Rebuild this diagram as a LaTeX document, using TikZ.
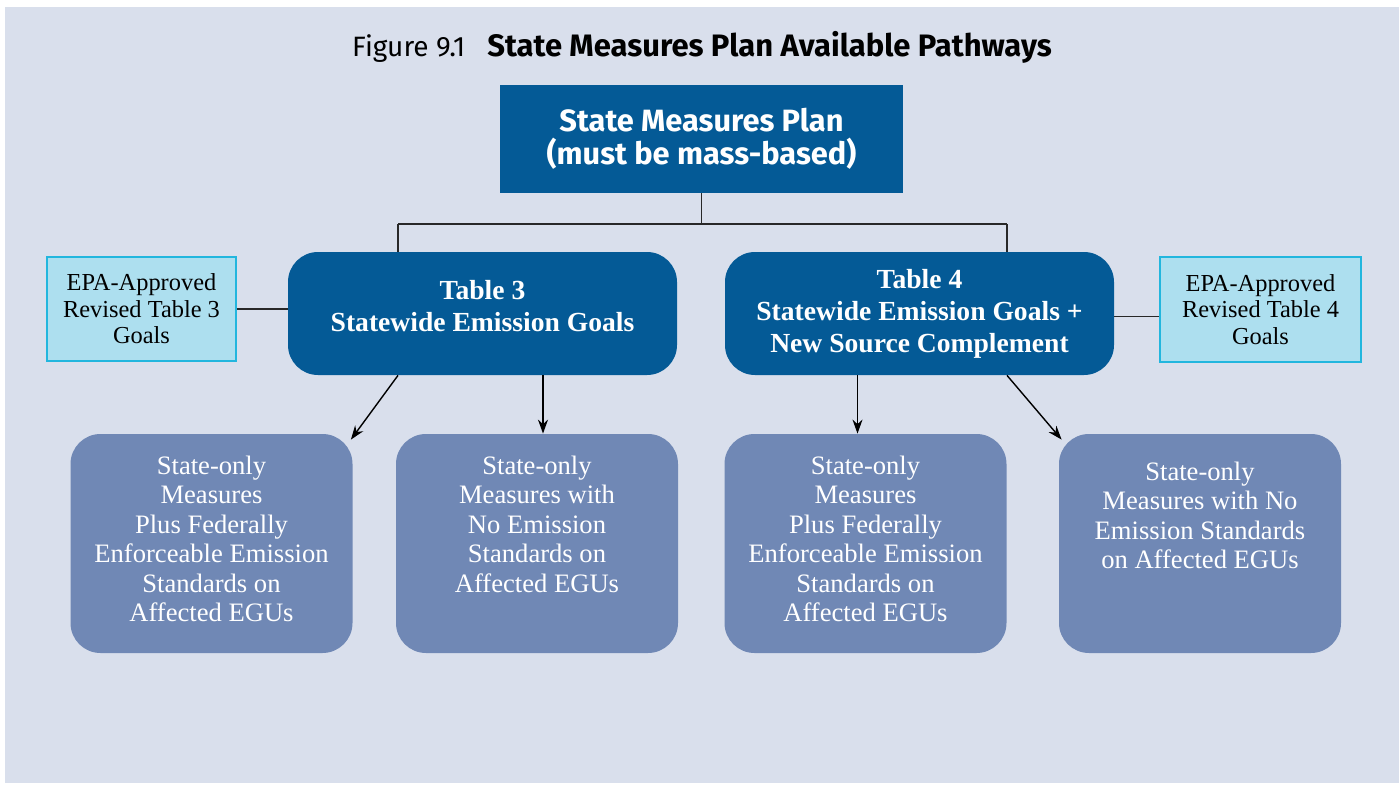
\documentclass[tikz,border=0pt]{standalone}
\usepackage{fontspec}
\setmainfont{Liberation Serif}
\setsansfont{Fira Sans}
\usepackage{xcolor}
\usepackage{tikz}
\usetikzlibrary{positioning,arrows.meta}
\definecolor{mybg}{RGB}{217,223,236}
\definecolor{myblue}{RGB}{4,90,150}
\definecolor{myslate}{RGB}{112,136,181}
\definecolor{mycyan}{RGB}{173,223,239}
\definecolor{myrim}{RGB}{34,182,222}
\definecolor{myline}{RGB}{40,40,40}

\begin{document}
\begin{tikzpicture}[x=0.5pt,y=-0.5pt,
    goalbox/.style={fill=myblue,rounded corners=15pt,minimum width=194.5pt,minimum height=61.5pt},
    pathbox/.style={fill=myslate,rounded corners=15pt,minimum width=141pt,minimum height=109.5pt},
    epabox/.style={fill=mycyan,draw=myrim,line width=0.8pt,align=center,font=\fontsize{12.2}{13.2}\selectfont},
    goaltext/.style={text=white,align=center,inner sep=0pt,font=\bfseries\fontsize{13.8}{16}\selectfont},
    pathtext/.style={text=white,align=center,inner sep=0pt,font=\fontsize{13.3}{14.7}\selectfont},
    link/.style={draw=myline,line width=0.7pt},
    arr/.style={draw=black,line width=0.7pt,-{Stealth[length=7pt,width=5pt]}}]
            \useasboundingbox (0,0) rectangle (1399,787);
            \fill[mybg] (5,7) rectangle (1399,783);

            \node[font=\sffamily\fontsize{14}{16}\selectfont] (title) at (702,47)
                {Figure 9.1\hspace{11pt}{\fontsize{15.5}{17}\selectfont\bfseries State Measures Plan Available Pathways}};

            \node[fill=myblue,minimum width=201.5pt,minimum height=54pt,text=white,align=center,
                font=\sffamily\bfseries\fontsize{15.4}{16.5}\selectfont] (plan) at (701.5,139)
                {State Measures Plan\\(must be mass-based)};

            \node[goalbox] (t3) at (482.5,313.5) {};
            \node[goalbox] (t4) at (919.5,313.5) {};
            \node[goaltext,below=14pt of t3.north] (t3text) {Table 3\\Statewide Emission Goals};
            \node[goaltext,below=8.5pt of t4.north] (t4text) {Table 4\\Statewide Emission Goals +\\New Source Complement};

            \node[epabox,minimum width=94.5pt,minimum height=52pt] (epa3) at (141.5,309)
                {EPA-Approved\\Revised Table 3\\Goals};
            \node[epabox,minimum width=100.5pt,minimum height=52.5pt] (epa4) at (1260.5,309.5)
                {EPA-Approved\\Revised Table 4\\Goals};

            \node[pathbox] (p1) at (211.5,543.5) {};
            \node[pathbox] (p2) at (537,543.5) {};
            \node[pathbox] (p3) at (865.5,543.5) {};
            \node[pathbox] (p4) at (1200,543.5) {};
            \node[pathtext,below=11pt of p1.north] (p1text)
                {State-only\\Measures\\Plus Federally\\Enforceable Emission\\Standards on\\Affected EGUs};
            \node[pathtext,below=11pt of p2.north] (p2text)
                {State-only\\Measures with\\No Emission\\Standards on\\Affected EGUs};
            \node[pathtext,below=11pt of p3.north] (p3text)
                {State-only\\Measures\\Plus Federally\\Enforceable Emission\\Standards on\\Affected EGUs};
            \node[pathtext,below=14pt of p4.north] (p4text)
                {State-only\\Measures with No\\Emission Standards\\on Affected EGUs};

            \coordinate (j3) at (398,224);
            \coordinate (j4) at (1007,224);
            \draw[link] (plan.south) -- (plan.south |- j3);
            \draw[link] (j3) -- (j4);
            \draw[link] (j3) -- (j3 |- t3.north);
            \draw[link] (j4) -- (j4 |- t4.north);
            \draw[link] (epa3.east) -- (epa3.east -| t3.west);
            \draw[link] ([yshift=-1.5pt]t4.east) -- ([yshift=-1.5pt]t4.east -| epa4.west);

            \draw[arr] (j3 |- t3.south) -- ([xshift=-1pt,yshift=-3pt]p1.north east);
            \draw[arr] ([xshift=3pt]p2.north |- t3.south) -- ([xshift=3pt]p2.north);
            \draw[arr] ([xshift=-4pt]p3.north |- t4.south) -- ([xshift=-4pt]p3.north);
            \draw[arr] (j4 |- t4.south) -- ([xshift=1.5pt,yshift=-3pt]p4.north west);
        \end{tikzpicture}
\end{document}
